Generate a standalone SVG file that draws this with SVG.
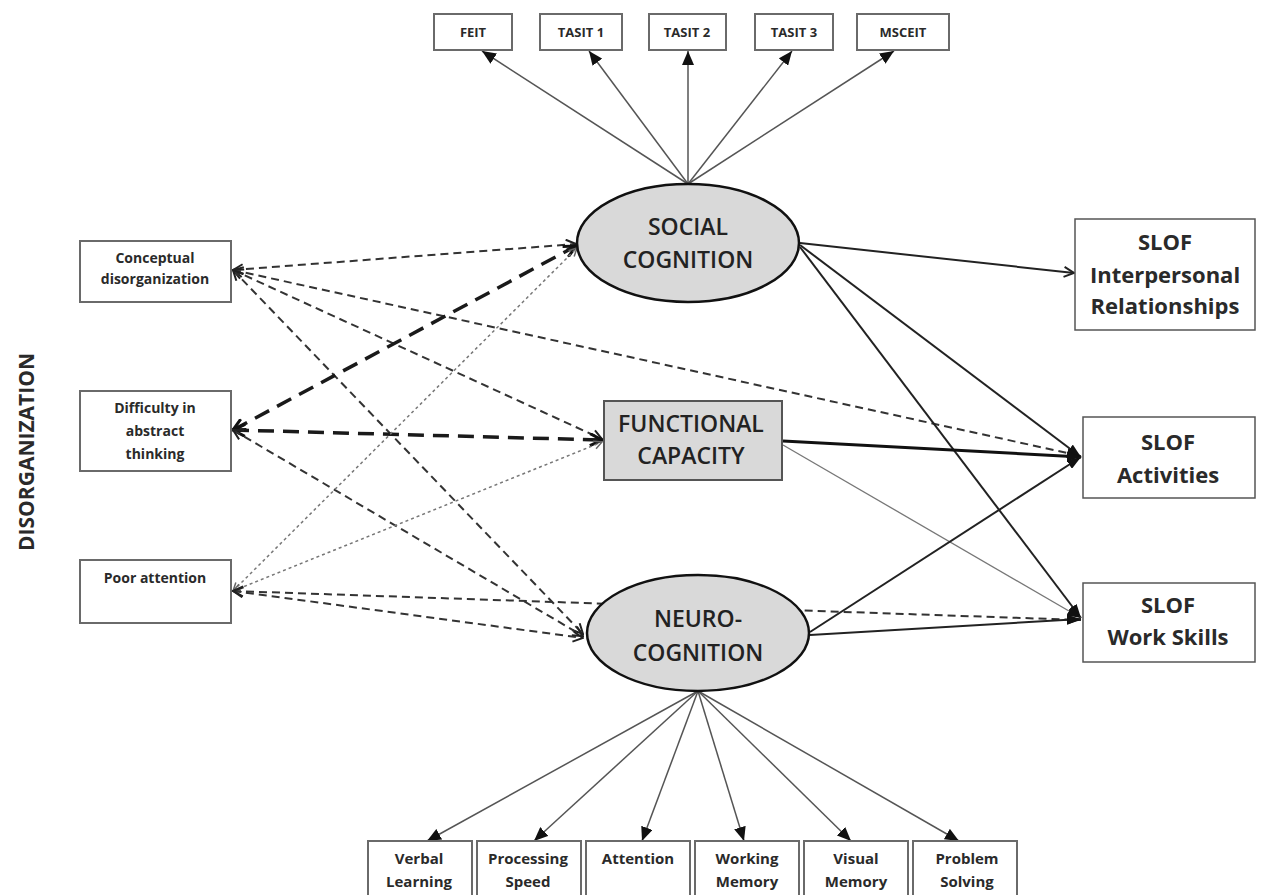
<svg xmlns="http://www.w3.org/2000/svg" width="1261" height="895" viewBox="0 0 1261 895">
<style>
.bg{fill:#fff}
.box{fill:#fff;stroke:#6a6a6a;stroke-width:2}
.rbox{fill:#fff;stroke:#555;stroke-width:1.5}
.gbox{fill:#d9d9d9;stroke:#555;stroke-width:2}
.ell{fill:#d9d9d9;stroke:#111;stroke-width:2.5}
.t{font-family:'Open Sans','Liberation Sans',sans-serif;text-anchor:middle;fill:#2a2a2a}
.sm{font-size:14px;font-weight:bold}
.bt{font-size:15px;font-weight:bold}
.tp{font-size:13px;font-weight:bold}
.big{font-size:22px;font-weight:bold}
.node{font-size:23px;font-weight:600;fill:#222}
.d{fill:none;stroke:#333;stroke-width:2;stroke-dasharray:8 5}
.db{fill:none;stroke:#1a1a1a;stroke-width:3.5;stroke-dasharray:16 9}
.dt{fill:none;stroke:#777;stroke-width:1.5;stroke-dasharray:3 3}
.s{fill:none;stroke:#222;stroke-width:2}
.sb{fill:none;stroke:#111;stroke-width:3}
.sl{fill:none;stroke:#777;stroke-width:1.3}
.th{fill:none;stroke:#555;stroke-width:1.5}
</style>
<defs>
<marker id="tri" viewBox="0 0 14 12" refX="14" refY="6" markerWidth="14" markerHeight="12" markerUnits="userSpaceOnUse" orient="auto"><path d="M0,0 L14,6 L0,12 z" fill="#111"/></marker>
<marker id="tri2" viewBox="0 0 14 10" refX="14" refY="5" markerWidth="14" markerHeight="10" markerUnits="userSpaceOnUse" orient="auto"><path d="M0,0 L14,5 L0,10 z" fill="#111"/></marker>
<marker id="open" viewBox="0 0 12 12" refX="11" refY="6" markerWidth="12" markerHeight="12" markerUnits="userSpaceOnUse" orient="auto-start-reverse"><path d="M1,1 L11,6 L1,11" fill="none" stroke="#222" stroke-width="2"/></marker>
<marker id="openb" viewBox="0 0 14 14" refX="13" refY="7" markerWidth="14" markerHeight="14" markerUnits="userSpaceOnUse" orient="auto-start-reverse"><path d="M1,1 L13,7 L1,13" fill="none" stroke="#111" stroke-width="3"/></marker>
<marker id="opens" viewBox="0 0 10 10" refX="9" refY="5" markerWidth="10" markerHeight="10" markerUnits="userSpaceOnUse" orient="auto-start-reverse"><path d="M1,1 L9,5 L1,9" fill="none" stroke="#666" stroke-width="1.5"/></marker>
</defs>
<rect class="bg" x="0" y="0" width="1261" height="895"/>

<g id="connectors">
  <line class="th" x1="688" y1="184" x2="482" y2="51" marker-end="url(#tri)"/>
  <line class="th" x1="688" y1="184" x2="589" y2="51" marker-end="url(#tri)"/>
  <line class="th" x1="688" y1="184" x2="688" y2="51" marker-end="url(#tri)"/>
  <line class="th" x1="688" y1="184" x2="792" y2="51" marker-end="url(#tri)"/>
  <line class="th" x1="688" y1="184" x2="894" y2="51" marker-end="url(#tri)"/>
  <line class="th" x1="698" y1="691" x2="427" y2="841" marker-end="url(#tri)"/>
  <line class="th" x1="698" y1="691" x2="534" y2="841" marker-end="url(#tri)"/>
  <line class="th" x1="698" y1="691" x2="642" y2="841" marker-end="url(#tri)"/>
  <line class="th" x1="698" y1="691" x2="744" y2="841" marker-end="url(#tri)"/>
  <line class="th" x1="698" y1="691" x2="851" y2="841" marker-end="url(#tri)"/>
  <line class="th" x1="698" y1="691" x2="959" y2="841" marker-end="url(#tri)"/>
  <line class="d" x1="233" y1="270" x2="576" y2="244" marker-start="url(#open)" marker-end="url(#open)"/>
  <line class="d" x1="233" y1="270" x2="602" y2="439" marker-start="url(#open)" marker-end="url(#open)"/>
  <line class="d" x1="233" y1="270" x2="1081" y2="456" marker-start="url(#open)" marker-end="url(#tri2)"/>
  <line class="d" x1="233" y1="270" x2="583" y2="634" marker-start="url(#open)" marker-end="url(#open)"/>
  <line class="db" x1="233" y1="430" x2="576" y2="246" marker-start="url(#openb)" marker-end="url(#openb)"/>
  <line class="db" x1="233" y1="430" x2="602" y2="440" marker-start="url(#openb)" marker-end="url(#openb)"/>
  <line class="d" x1="233" y1="430" x2="583" y2="636" marker-start="url(#open)" marker-end="url(#open)"/>
  <line class="dt" x1="233" y1="591" x2="577" y2="248" marker-start="url(#opens)" marker-end="url(#opens)"/>
  <line class="dt" x1="233" y1="591" x2="602" y2="442" marker-start="url(#opens)" marker-end="url(#opens)"/>
  <line class="d" x1="233" y1="591" x2="583" y2="638" marker-start="url(#open)" marker-end="url(#open)"/>
  <line class="d" x1="233" y1="591" x2="1081" y2="620" marker-start="url(#open)" marker-end="url(#tri2)"/>
  <line class="s" x1="800" y1="243" x2="1074" y2="273" marker-end="url(#open)"/>
  <line class="s" x1="800" y1="245" x2="1081" y2="457" marker-end="url(#tri2)"/>
  <line class="s" x1="800" y1="247" x2="1081" y2="618" marker-end="url(#tri2)"/>
  <line class="sb" x1="783" y1="441" x2="1081" y2="457" marker-end="url(#tri2)"/>
  <line class="sl" x1="783" y1="445" x2="1081" y2="618" marker-end="url(#tri2)"/>
  <line class="s" x1="810" y1="632" x2="1081" y2="457" marker-end="url(#tri2)"/>
  <line class="s" x1="810" y1="635" x2="1081" y2="619" marker-end="url(#tri2)"/>
</g>

<g id="feit"><rect class="box" x="434" y="14" width="78" height="36"/><text class="t tp" x="473" y="37">FEIT</text></g>
<g id="tasit1"><rect class="box" x="540" y="14" width="82" height="36"/><text class="t tp" x="581" y="37">TASIT 1</text></g>
<g id="tasit2"><rect class="box" x="649" y="14" width="77" height="36"/><text class="t tp" x="687" y="37">TASIT 2</text></g>
<g id="tasit3"><rect class="box" x="755" y="14" width="78" height="36"/><text class="t tp" x="794" y="37">TASIT 3</text></g>
<g id="msceit"><rect class="box" x="857" y="14" width="92" height="36"/><text class="t tp" x="903" y="37">MSCEIT</text></g>

<g id="social-cognition"><ellipse class="ell" cx="688" cy="243" rx="111" ry="59"/><text class="t node" x="688" y="235">SOCIAL</text><text class="t node" x="688" y="268">COGNITION</text></g>
<g id="functional-capacity"><rect class="gbox" x="604" y="401" width="178" height="79"/><text class="t node" x="691" y="432">FUNCTIONAL</text><text class="t node" x="691" y="464">CAPACITY</text></g>
<g id="neuro-cognition"><ellipse class="ell" cx="698" cy="633" rx="111" ry="58"/><text class="t node" x="698" y="627">NEURO-</text><text class="t node" x="698" y="661">COGNITION</text></g>

<g id="conceptual"><rect class="box" x="80" y="241" width="151" height="61"/><text class="t sm" x="155" y="263">Conceptual</text><text class="t sm" x="155" y="284">disorganization</text></g>
<g id="difficulty"><rect class="box" x="80" y="391" width="151" height="80"/><text class="t sm" x="155" y="413">Difficulty in</text><text class="t sm" x="155" y="436">abstract</text><text class="t sm" x="155" y="459">thinking</text></g>
<g id="poor-attention"><rect class="box" x="80" y="560" width="151" height="63"/><text class="t sm" x="155" y="583">Poor attention</text></g>

<g id="slof-interpersonal"><rect class="rbox" x="1075" y="219" width="180" height="111"/><text class="t big" x="1165" y="250">SLOF</text><text class="t big" x="1165" y="283">Interpersonal</text><text class="t big" x="1165" y="314">Relationships</text></g>
<g id="slof-activities"><rect class="rbox" x="1083" y="417" width="172" height="81"/><text class="t big" x="1168" y="450">SLOF</text><text class="t big" x="1168" y="483">Activities</text></g>
<g id="slof-work"><rect class="rbox" x="1083" y="583" width="172" height="79"/><text class="t big" x="1168" y="613">SLOF</text><text class="t big" x="1168" y="645">Work Skills</text></g>

<g id="verbal-learning"><rect class="box" x="368" y="841" width="104" height="70"/><text class="t bt" x="419" y="864">Verbal</text><text class="t bt" x="419" y="887">Learning</text></g>
<g id="processing-speed"><rect class="box" x="477" y="841" width="104" height="70"/><text class="t bt" x="528" y="864">Processing</text><text class="t bt" x="528" y="887">Speed</text></g>
<g id="attention"><rect class="box" x="586" y="841" width="104" height="70"/><text class="t bt" x="638" y="864">Attention</text></g>
<g id="working-memory"><rect class="box" x="695" y="841" width="104" height="70"/><text class="t bt" x="747" y="864">Working</text><text class="t bt" x="747" y="887">Memory</text></g>
<g id="visual-memory"><rect class="box" x="804" y="841" width="104" height="70"/><text class="t bt" x="856" y="864">Visual</text><text class="t bt" x="856" y="887">Memory</text></g>
<g id="problem-solving"><rect class="box" x="913" y="841" width="104" height="70"/><text class="t bt" x="967" y="864">Problem</text><text class="t bt" x="967" y="887">Solving</text></g>

<g id="disorganization-label"><text class="t" style="font-size:21px;font-weight:bold" transform="translate(34,452) rotate(-90)">DISORGANIZATION</text></g>
</svg>
